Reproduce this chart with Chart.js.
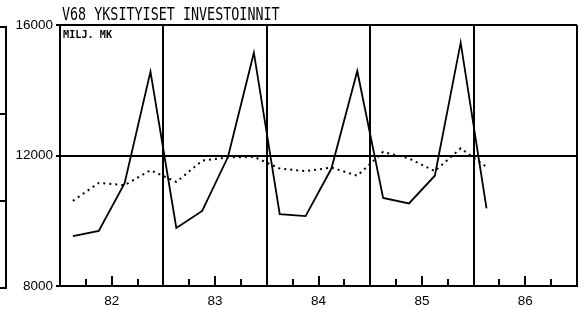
<!DOCTYPE html>
<html>
<head>
<meta charset="utf-8">
<script src="https://cdn.jsdelivr.net/npm/chart.js@4"></script>
<style>
  html, body { margin: 0; padding: 0; background: #fff; }
  #wrap { position: relative; width: 584px; height: 309px; }
  #title {
    position: absolute; left: 62px; top: 4px;
    font: 13.4px "DejaVu Sans Mono", monospace; color: #000;
    transform: scaleY(1.3); transform-origin: 0 0; white-space: nowrap;
  }
  #unit {
    position: absolute; left: 63px; top: 29px;
    font: bold 10.2px "DejaVu Sans Mono", monospace; color: #000; white-space: nowrap;
  }
  /* fragment of the neighbouring chart at the left edge */
  #frag { position: absolute; left: 0; top: 26px; width: 5px; height: 259px;
    border-top: 2px solid #000; border-right: 2px solid #000; border-bottom: 2px solid #000; }
  #frag div { position: absolute; left: 0; width: 5px; border-top: 2px solid #000; }
</style>
</head>
<body>
<div id="wrap">
  <canvas id="chart" width="584" height="309"></canvas>
  <div id="frag"><div style="top:85px"></div><div style="top:172px"></div></div>
  <div id="title">V68 YKSITYISET INVESTOINNIT</div>
  <div id="unit">MILJ. MK</div>
</div>
<script>
// neljännekset 1982Q1 - 1986Q1
const quarters = ['82Q1','82Q2','82Q3','82Q4','83Q1','83Q2','83Q3','83Q4',
                  '84Q1','84Q2','84Q3','84Q4','85Q1','85Q2','85Q3','85Q4','86Q1'];
// alkuperäinen sarja (yhtenäinen viiva)
const original = [9530, 9690, 11150, 14570, 9780, 10300, 11960, 15150,
                  10200, 10140, 11600, 14590, 10700, 10530, 11380, 15460, 10380];
// kausitasoitettu (pisteviiva)
const seasonal = [10610, 11160, 11090, 11550, 11190, 11840, 11940, 11960,
                  11600, 11520, 11630, 11380, 12110, 11910, 11520, 12220, 11650];
const yearLabels = ['82', '83', '84', '85', '86'];
const yTicks = [8000, 12000, 16000];

const pts = arr => arr.map((v, i) => ({ x: i / 4 + 0.125, y: v }));

// sisäänpäin osoittavat neljännesmerkit x-akselilla
const innerTicks = {
  id: 'innerTicks',
  afterDraw(chart) {
    const { ctx, chartArea, scales } = chart;
    ctx.save();
    ctx.strokeStyle = '#000';
    ctx.lineWidth = 2;
    for (let v = 0.25; v < 5; v += 0.25) {
      if (v % 1 === 0) continue;
      const x = Math.round(scales.x.getPixelForValue(v));
      const len = (v % 1 === 0.5) ? 10 : 7;
      ctx.beginPath();
      ctx.moveTo(x, chartArea.bottom);
      ctx.lineTo(x, chartArea.bottom - len);
      ctx.stroke();
    }
    ctx.restore();
  }
};

new Chart(document.getElementById('chart'), {
  type: 'line',
  data: {
    datasets: [{
      label: 'alkuperäinen',
      data: pts(original),
      borderColor: '#000',
      borderWidth: 1.8,
      pointRadius: 0,
      tension: 0
    }, {
      label: 'tasoitettu',
      data: pts(seasonal),
      borderColor: '#000',
      borderWidth: 2,
      borderDash: [2, 4],
      pointRadius: 0,
      tension: 0
    }]
  },
  options: {
    responsive: false,
    animation: false,
    layout: { padding: { top: 25, right: 7, left: 0, bottom: 0 } },
    plugins: { legend: { display: false }, tooltip: { enabled: false } },
    scales: {
      x: {
        type: 'linear', min: 0, max: 5,
        afterFit: s => { s.height = 23; },
        ticks: {
          stepSize: 0.25, autoSkip: false, maxRotation: 0, padding: 7,
          color: '#000', font: { family: 'Liberation Sans', size: 13.5 },
          callback: v => (v % 1 === 0.5) ? yearLabels[Math.floor(v)] : ''
        },
        grid: {
          drawTicks: false, lineWidth: 2,
          color: c => (c.tick && c.tick.value % 1 === 0) ? '#000' : 'rgba(0,0,0,0)'
        },
        border: { color: '#000', width: 2 }
      },
      y: {
        min: 8000, max: 16000,
        afterFit: s => { s.width = 60; },
        afterBuildTicks: s => { s.ticks = yTicks.map(v => ({ value: v })); },
        ticks: {
          padding: 3, color: '#000',
          font: { family: 'Liberation Sans', size: 13.5 },
          callback: v => String(v)
        },
        grid: { color: '#000', lineWidth: 2, tickLength: 4 },
        border: { color: '#000', width: 2 }
      }
    }
  },
  plugins: [innerTicks]
});
</script>
</body>
</html>
